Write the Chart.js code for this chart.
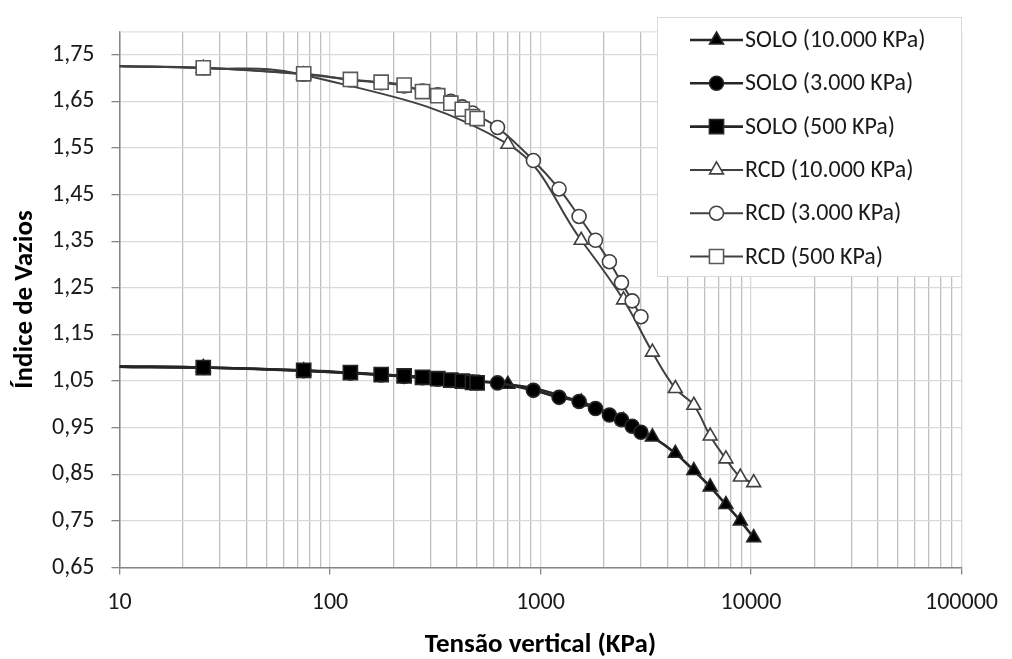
<!DOCTYPE html>
<html>
<head>
<meta charset="utf-8">
<script src="https://cdn.jsdelivr.net/npm/chart.js@4/dist/chart.umd.min.js"></script>
<style>
  body { margin: 0; background: #fff; }
  canvas { display: block; }
</style>
</head>
<body>
<canvas id="voidChart" width="1012" height="659"></canvas>
<script>
// values (first point of each series only carries the line to the axis)
const seriesNames = ['SOLO (10.000 KPa)', 'SOLO (3.000 KPa)', 'SOLO (500 KPa)',
                     'RCD (10.000 KPa)', 'RCD (3.000 KPa)', 'RCD (500 KPa)'];

const x10000 = [10, 25, 75, 700, 1560, 2480, 3400, 4370, 5350, 6400, 7600, 8900, 10300];
const x3000 = [10, 25, 75, 125, 175, 225, 275, 325, 375, 425, 475, 625, 925, 1225, 1525, 1825, 2125, 2425, 2725, 3000];
const x500 = [10, 25, 75, 125, 175, 225, 275, 325, 375, 425, 475, 500];

const solo10000 = [1.081, 1.079, 1.072, 1.043, 1.005, 0.965, 0.930, 0.895, 0.858, 0.823, 0.785, 0.750, 0.714];
const solo3000 = [1.081, 1.079, 1.072, 1.067, 1.063, 1.060, 1.057, 1.054, 1.051, 1.049, 1.048, 1.046, 1.030, 1.015, 1.006, 0.991, 0.977, 0.967, 0.953, 0.940];
const solo500 = [1.081, 1.079, 1.073, 1.068, 1.064, 1.061, 1.058, 1.055, 1.052, 1.050, 1.047, 1.046];

const rcd10000 = [1.725, 1.721, 1.707, 1.558, 1.352, 1.224, 1.112, 1.034, 0.998, 0.932, 0.883, 0.844, 0.832];
const rcd3000 = [1.726, 1.722, 1.708, 1.696, 1.690, 1.683, 1.672, 1.664, 1.650, 1.638, 1.625, 1.594, 1.523, 1.462, 1.403, 1.352, 1.306, 1.261, 1.222, 1.188];
const rcd500 = [1.725, 1.722, 1.709, 1.697, 1.691, 1.685, 1.671, 1.662, 1.646, 1.633, 1.617, 1.613];

const yTicks = [0.65, 0.75, 0.85, 0.95, 1.05, 1.15, 1.25, 1.35, 1.45, 1.55, 1.65, 1.75];
const xLabels = [10, 100, 1000, 10000, 100000];

const FONT = 'Carlito, Lato, sans-serif';

// minor grid positions for the log axis
let xGrid = [];
xLabels.forEach(d => {
  if (d === 100000) { xGrid.push(d); return; }
  for (let m = 1; m < 10; m++) xGrid.push(d * m);
});

const pts = (xs, ys) => xs.map((x, i) => ({ x: x, y: ys[i] }));

const styles = [
  { style: 'triangle', r: 8, fill: '#000000', edge: '#262626', line: '#262626', lw: 2.6 },
  { style: 'circle', r: 7, fill: '#000000', edge: '#262626', line: '#262626', lw: 2.6 },
  { style: 'rect', r: 10, fill: '#000000', edge: '#262626', line: '#262626', lw: 2.6 },
  { style: 'triangle', r: 8, fill: '#ffffff', edge: '#404040', line: '#404040', lw: 2 },
  { style: 'circle', r: 7, fill: '#ffffff', edge: '#404040', line: '#404040', lw: 2 },
  { style: 'rect', r: 10, fill: '#ffffff', edge: '#595959', line: '#404040', lw: 2 }
];

const allData = [pts(x10000, solo10000), pts(x3000, solo3000), pts(x500, solo500),
                 pts(x10000, rcd10000), pts(x3000, rcd3000), pts(x500, rcd500)];

const datasets = allData.map((d, i) => ({
  label: seriesNames[i],
  data: d,
  order: 6 - i,
  borderColor: styles[i].line,
  borderWidth: styles[i].lw,
  tension: 0.4,
  pointStyle: styles[i].style,
  pointRadius: c => c.dataIndex === 0 ? 0 : styles[i].r,
  pointBackgroundColor: styles[i].fill,
  pointBorderColor: styles[i].edge,
  pointBorderWidth: 1.6
}));

function marker(ctx, s, x, y) {
  ctx.beginPath();
  if (s.style === 'circle') {
    ctx.arc(x, y, s.r, 0, Math.PI * 2);
  } else if (s.style === 'rect') {
    const h = s.r * Math.SQRT1_2;
    ctx.rect(x - h, y - h, 2 * h, 2 * h);
  } else {
    for (let k = 0; k < 3; k++) {
      const a = k * 2 * Math.PI / 3;
      const px = x + Math.sin(a) * s.r, py = y - Math.cos(a) * s.r;
      if (k === 0) ctx.moveTo(px, py); else ctx.lineTo(px, py);
    }
    ctx.closePath();
  }
  ctx.fillStyle = s.fill;
  ctx.fill();
  ctx.lineWidth = 1.6;
  ctx.strokeStyle = s.edge;
  ctx.stroke();
}

const frameAndLegend = {
  id: 'frameAndLegend',
  beforeDatasetsDraw(chart) {
    const a = chart.chartArea, c = chart.ctx;
    c.save();
    c.strokeStyle = '#d9d9d9';
    c.lineWidth = 1;
    c.beginPath();
    c.moveTo(a.left, a.top + 0.5);
    c.lineTo(a.right, a.top + 0.5);
    c.stroke();
    c.restore();
  },
  afterDraw(chart) {
    const c = chart.ctx;
    c.save();
    c.fillStyle = '#ffffff';
    c.fillRect(657, 17, 305, 260);
    c.strokeStyle = '#d9d9d9';
    c.lineWidth = 1;
    c.strokeRect(657.5, 17.5, 304, 259);
    seriesNames.forEach((name, i) => {
      const y = 40 + i * 43.3;
      c.strokeStyle = styles[i].line;
      c.lineWidth = styles[i].lw;
      c.beginPath();
      c.moveTo(690, y);
      c.lineTo(743, y);
      c.stroke();
      marker(c, styles[i], 716.5, y);
      c.fillStyle = '#1a1a1a';
      c.font = '24px ' + FONT;
      c.textBaseline = 'middle';
      c.textAlign = 'left';
      c.fillText(name, 745, y + 1);
    });
    c.restore();
  }
};

const ctx = document.getElementById('voidChart').getContext('2d');
new Chart(ctx, {
  type: 'line',
  data: { datasets: datasets },
  options: {
    responsive: false,
    animation: false,
    events: [],
    layout: { padding: { top: 13, right: 50, left: 0, bottom: 0 } },
    scales: {
      x: {
        type: 'logarithmic',
        min: 10,
        max: 100000,
        afterBuildTicks: s => { s.ticks = xGrid.map(v => ({ value: v })); },
        afterFit: s => { s.height = 91.5; },
        ticks: {
          autoSkip: false,
          maxRotation: 0,
          padding: 14,
          color: '#1a1a1a',
          font: { family: FONT, size: 24 },
          callback: v => xLabels.includes(v) ? String(v) : ''
        },
        grid: {
          color: c => xLabels.includes(c.tick.value) ? '#d9d9d9' : '#bfbfbf',
          tickColor: c => xLabels.includes(c.tick.value) ? '#868686' : 'rgba(0,0,0,0)',
          tickLength: 7,
          lineWidth: 1.3
        },
        border: { color: '#868686', width: 1.5 },
        title: {
          display: true,
          text: 'Tensão vertical (KPa)',
          color: '#000',
          font: { family: FONT, size: 27, weight: 'bold', lineHeight: 1 },
          padding: { top: 0, bottom: 0 }
        }
      },
      y: {
        min: 0.65,
        max: 1.8,
        afterBuildTicks: s => { s.ticks = yTicks.map(v => ({ value: v })); },
        afterFit: s => { s.width = 119.5; },
        ticks: {
          padding: 17,
          color: '#1a1a1a',
          font: { family: FONT, size: 24 },
          callback: v => v.toFixed(2).replace('.', ',')
        },
        grid: { color: '#d9d9d9', tickColor: '#868686', tickLength: 8, lineWidth: 1.3 },
        border: { color: '#868686', width: 1.5 },
        title: {
          display: true,
          text: 'Índice de Vazios',
          color: '#000',
          font: { family: FONT, size: 27, weight: 'bold', lineHeight: 1 },
          padding: { top: 12, bottom: 0 }
        }
      }
    },
    plugins: { legend: { display: false }, tooltip: { enabled: false } }
  },
  plugins: [frameAndLegend]
});
</script>
</body>
</html>
